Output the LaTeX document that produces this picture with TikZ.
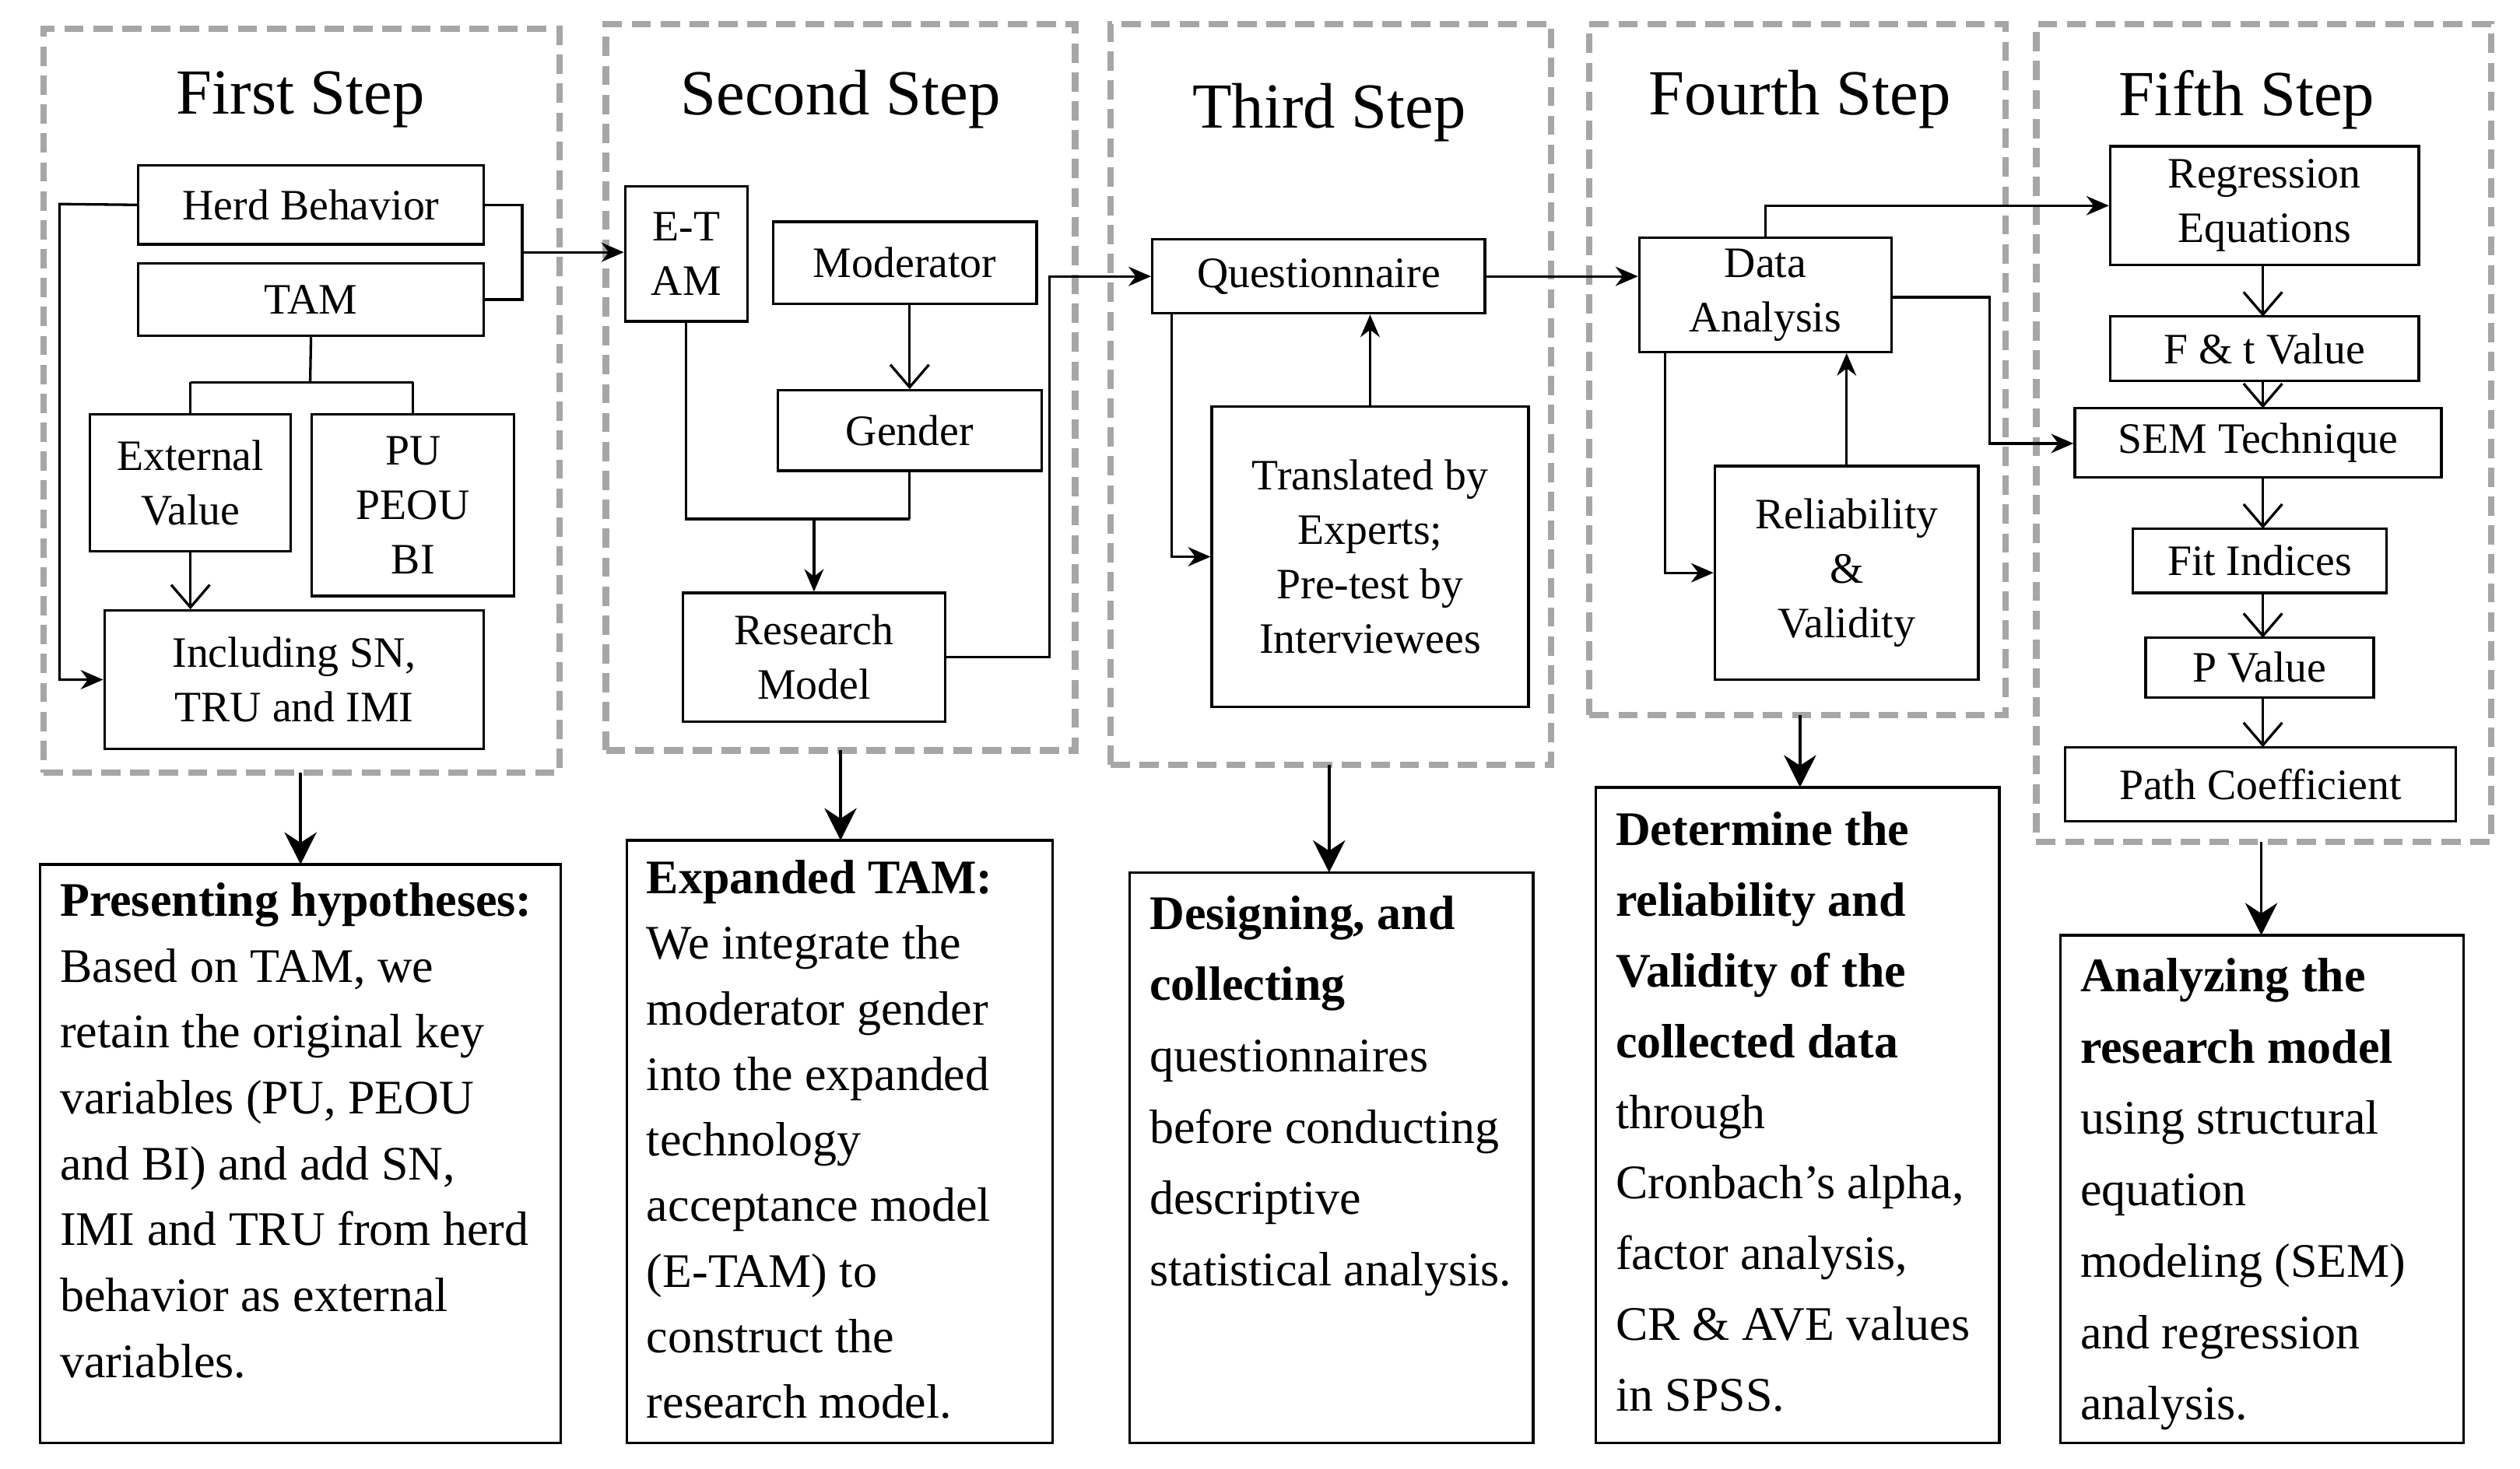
\documentclass[tikz,border=0pt]{standalone}
\usepackage{fontspec}
\setmainfont{Liberation Serif}
\usetikzlibrary{arrows.meta}
\newcommand\bx[6]{\node[box,minimum width={(#4-#2)*0.5pt},minimum height={(#5-#3)*0.5pt}] (#1) at ({(#2+#4)/2},{(#3+#5)/2}) {#6};}
\newcommand\dbox[5]{\node[dbox,minimum width={(#4-#2)*0.5pt},minimum height={(#5-#3)*0.5pt}] (#1) at ({(#2+#4)/2},{(#3+#5)/2}) {};}
\begin{document}
\begin{tikzpicture}[x=0.5pt,y=-0.5pt,
 box/.style={draw,line width=0.8pt,inner sep=0pt,align=center,font=\fontsize{13.5}{17}\selectfont},
 dbox/.style={draw=gray!70,line width=2pt,dash pattern=on 6pt off 3pt,inner sep=0pt},
 ttl/.style={font=\fontsize{20}{24}\selectfont},
 ln/.style={line width=0.8pt},
 arr/.style={ln,-{Stealth[length=7pt,width=6pt]}},
 varr/.style={ln,-{Straight Barb[length=7pt,width=12pt]}},
 big/.style={line width=0.9pt,-{Stealth[length=10pt,width=10pt]}},
 txt/.style={anchor=north west,inner sep=0pt,align=left}]
\useasboundingbox (0,0) rectangle (1568,914);
% dashed boxes
\dbox{s1}{27}{18}{348}{481}
\dbox{s2}{377}{15}{669}{467}
\dbox{s3}{691}{15}{965}{476}
\dbox{s4}{989}{15}{1248}{445}
\dbox{s5}{1267}{15}{1550}{524}
\node[ttl] (t1) at (187,62) {First Step};
\node[ttl] (t2) at (523,62) {Second Step};
\node[ttl] (t3) at (827,70) {Third Step};
\node[ttl] (t4) at (1120,62) {Fourth Step};
\node[ttl] (t5) at (1398,62) {Fifth Step};
% step 1
\bx{herd}{86}{103}{301}{152}{Herd Behavior}
\bx{tam}{86}{164}{301}{209}{TAM}
\bx{ext}{56}{258}{181}{343}{External\\Value}
\bx{pu}{194}{258}{320}{371}{PU\\PEOU\\BI}
\bx{incl}{65}{380}{301}{466}{Including SN,\\TRU and IMI}
\draw[ln] (tam.south) -- (193,238) coordinate (j1);
\draw[ln] (ext.north |- j1) -- (pu.north |- j1);
\draw[ln] (ext.north |- j1) -- (ext.north);
\draw[ln] (pu.north |- j1) -- (pu.north);
\draw[varr] (ext.south) -- (ext.south |- incl.north);
\draw[arr] (herd.west) -- (37,127) |- (incl.west);
\coordinate (br) at (325,157);
\draw[ln] (herd.east) -| (br) |- (tam.east);
% step 2
\bx{etam}{389}{116}{465}{200}{E-T\\AM}
\bx{mod}{481}{138}{645}{189}{Moderator}
\bx{gen}{484}{243}{648}{293}{Gender}
\bx{rm}{425}{369}{588}{449}{Research\\Model}
\draw[arr] (br) -- (etam.west |- br);
\draw[varr] (mod.south -| gen.north) -- (gen.north);
\coordinate (j2) at (566,323);
\draw[ln] (etam.south) |- (j2);
\draw[ln] (gen.south) -- (j2);
\draw[arr] (rm.north |- j2) -- (rm.north);
% step 3
\bx{q}{717}{149}{924}{195}{Questionnaire}
\bx{tr}{754}{253}{951}{440}{Translated by\\Experts;\\Pre-test by\\Interviewees}
\draw[arr] (rm.east) -| (653,172) -- (q.west);
\draw[arr] (tr.north) -- (tr.north |- q.south);
\draw[arr] (729,195) |- (tr.west);
% step 4
\bx{da}{1020}{148}{1177}{219}{Data\\Analysis}
\bx{rv}{1067}{290}{1231}{423}{Reliability\\\&\\Validity}
\draw[arr] (q.east) -- (q.east -| da.west);
\draw[arr] (rv.north) -- (rv.north |- da.south);
\draw[arr] (1036,219) |- (rv.west);
% step 5
\bx{reg}{1313}{91}{1505}{165}{Regression\\Equations}
\bx{ft}{1313}{197}{1505}{237}{F \& t Value}
\bx{sem}{1291}{254}{1519}{297}{SEM Technique}
\bx{fit}{1327}{329}{1485}{369}{Fit Indices}
\bx{pv}{1335}{397}{1477}{434}{P Value}
\bx{pc}{1285}{465}{1528}{511}{Path Coefficient}
\draw[arr] (da.north) |- (reg.west);
\draw[arr] (1177,185) -| (1238,276) -- (sem.west |- 0,276);
\draw[varr] (1408,165) -- (1408,197);
\draw[varr] (1408,237) -- (1408,254);
\draw[varr] (1408,297) -- (1408,329);
\draw[varr] (1408,369) -- (1408,397);
\draw[varr] (1408,434) -- (1408,465);
% bottom boxes
\bx{b1}{25}{538}{349}{898}{}
\bx{b2}{390}{523}{655}{898}{}
\bx{b3}{703}{543}{954}{898}{}
\bx{b4}{993}{490}{1244}{898}{}
\bx{b5}{1282}{582}{1533}{898}{}
\draw[big] (187,481) -- (187,538);
\draw[big] (523,467) -- (523,523);
\draw[big] (827,476) -- (827,543);
\draw[big] (1120,445) -- (1120,490);
\draw[big] (1407,524) -- (1407,582);
\node[txt,font=\fontsize{15}{20.5}\selectfont] (x1) at (37,549) {\textbf{Presenting hypotheses:}\\Based on TAM, we\\retain the original key\\variables (PU, PEOU\\and BI) and add SN,\\IMI and TRU from herd\\behavior as external\\variables.};
\node[txt,font=\fontsize{15}{20.4}\selectfont] (x2) at (402,535) {\textbf{Expanded TAM:}\\We integrate the\\moderator gender\\into the expanded\\technology\\acceptance model\\(E-TAM) to\\construct the\\research model.};
\node[txt,font=\fontsize{15}{22.2}\selectfont] (x3) at (715,557) {\textbf{Designing, and}\\\textbf{collecting}\\questionnaires\\before conducting\\descriptive\\statistical analysis.};
\node[txt,font=\fontsize{15}{22}\selectfont] (x4) at (1005,505) {\textbf{Determine the}\\\textbf{reliability and}\\\textbf{Validity of the}\\\textbf{collected data}\\through\\Cronbach’s alpha,\\factor analysis,\\CR \& AVE values\\in SPSS.};
\node[txt,font=\fontsize{15}{22.2}\selectfont] (x5) at (1294,596) {\textbf{Analyzing the}\\\textbf{research model}\\using structural\\equation\\modeling (SEM)\\and regression\\analysis.};
\end{tikzpicture}
\end{document}
